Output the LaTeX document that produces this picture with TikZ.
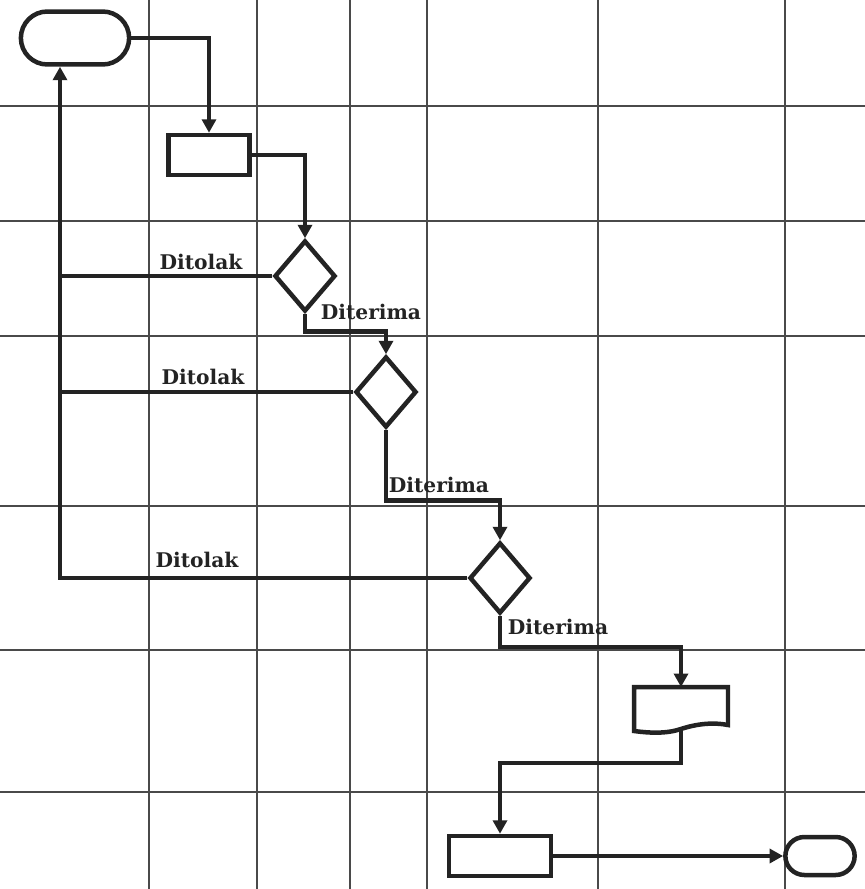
\documentclass[tikz,border=0pt]{standalone}
\usepackage{tikz}
\usetikzlibrary{arrows.meta, positioning, calc, shapes.geometric, shapes.misc}
\usepackage{xcolor}
\usepackage{fontspec}
\newfontfamily\lblfont{DejaVu Serif}

\definecolor{ink}{HTML}{232323}
\definecolor{gridgray}{HTML}{4A4A4A}

\begin{document}
\begin{tikzpicture}[x=0.02cm, y=-0.02cm,
    line/.style={draw=ink, line width=0.09cm},
    flow/.style={line, -{Triangle[length=0.27cm, width=0.28cm]}},
    term/.style={rounded rectangle, draw=ink, line width=0.09cm, fill=white},
    proc/.style={rectangle, draw=ink, line width=0.09cm, fill=white, minimum height=0.8cm},
    cond/.style={diamond, draw=ink, line width=0.09cm, fill=white, minimum width=1.22cm, minimum height=1.42cm, inner sep=0pt},
    lbl/.style={text=ink, font=\lblfont\bfseries\fontsize{11.5}{14}\selectfont, inner sep=0pt}]
    \useasboundingbox (0,0) rectangle (865,889);

    % Grid
    \foreach \gx in {149, 257, 350, 427, 598, 785}
        \draw[gridgray, line width=0.03cm] (\gx,0) -- (\gx,889);
    \foreach \gy in {106, 221, 336, 506, 650, 792}
        \draw[gridgray, line width=0.03cm] (0,\gy) -- (865,\gy);

    % Shapes
    \node[term, minimum width=2.4cm, minimum height=1.06cm] (start) at (75,38) {};
    \node[proc, minimum width=1.62cm] (input) at (209,155) {};
    \node[cond] (cek1) at (305,276) {};
    \node[cond] (cek2) at (386,392) {};
    \node[cond] (cek3) at (500,578) {};
    \node[rectangle, minimum width=1.88cm, minimum height=0.84cm, outer sep=0pt] (doc) at (681,708) {};
    \draw[line, fill=white, line join=miter] (doc.north west) -- (doc.north east) -- ($(doc.south east)+(0,-4)$)
        .. controls +(-15,-3) and +(15,-5) .. (doc.south)
        .. controls +(-15,5) and +(15,2) .. ($(doc.south west)+(0,2)$) -- cycle; % wavy bottom
    \node[proc, minimum width=2.04cm] (output) at (500,856) {};
    \node[term, minimum width=1.62cm, minimum height=0.76cm] (finish) at (820,856) {};

    % Main flow
    \draw[flow] (start.east) -| (input.north);
    \draw[flow] (input.east) -| (cek1.north);
    \draw[flow] (cek1.south) -- ++(0,18) -| (cek2.north);
    \draw[flow] (cek2.south) -- ++(0,71) -| (cek3.north);
    \draw[flow] (cek3.south) -- ++(0,31) -| (doc.north);
    \draw[flow] (doc.south) -- ++(0,34) -| (output.north);
    \draw[flow] (output.east) -- (finish.west);

    % Rejected back to start
    \coordinate (back) at (60,578);
    \draw[line] (cek1.west) -- (cek1.west -| back);
    \draw[line] (cek2.west) -- (cek2.west -| back);
    \draw[flow] (cek3.west) -| (start.south -| back);

    % Labels
    \node[lbl] (tolak1) at (201,262) {Ditolak};
    \node[lbl] (terima1) at (371,312) {Diterima};
    \node[lbl] (tolak2) at (203,377) {Ditolak};
    \node[lbl] (terima2) at (439,485) {Diterima};
    \node[lbl] (tolak3) at (197,560) {Ditolak};
    \node[lbl] (terima3) at (558,627) {Diterima};
\end{tikzpicture}
\end{document}
